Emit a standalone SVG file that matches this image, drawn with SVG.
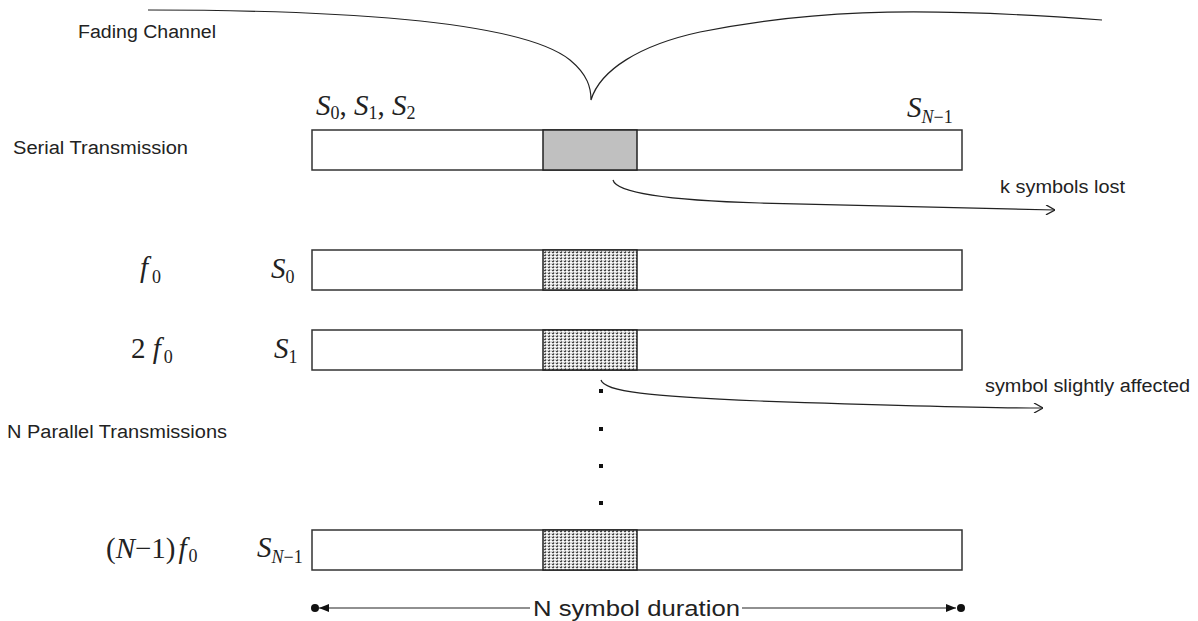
<svg xmlns="http://www.w3.org/2000/svg" width="1198" height="621" viewBox="0 0 1198 621">
<style>
.lbl{font-family:"Liberation Sans",Arial,sans-serif;font-size:18px;fill:#222}
.m{font-family:"Liberation Serif","Times New Roman",serif;font-style:italic;font-size:29px;fill:#222}
.mr{font-family:"Liberation Serif","Times New Roman",serif;font-size:29px;fill:#222}
.sub{font-family:"Liberation Serif","Times New Roman",serif;font-size:18px;fill:#222}
.subi{font-family:"Liberation Serif","Times New Roman",serif;font-style:italic;font-size:18px;fill:#222}
.box{fill:#fff;stroke:#333;stroke-width:1.5}
.hatch{fill:url(#dots);stroke:#222;stroke-width:1.5}
.con{fill:none;stroke:#222;stroke-width:1.2}
</style>
<defs>
<pattern id="dots" width="4" height="3" patternUnits="userSpaceOnUse">
<rect width="4" height="3" fill="#d8d8d8"/>
<rect x="0" y="0" width="2" height="1" fill="#444"/>
<rect x="2" y="1" width="2" height="1" fill="#fff"/>
<rect x="1" y="2" width="1" height="1" fill="#777"/>
</pattern>
<marker id="open" viewBox="0 0 10 10" refX="10" refY="5" markerWidth="10" markerHeight="10" markerUnits="userSpaceOnUse" orient="auto">
<path d="M1,0 L10,5 L1,10" fill="none" stroke="#222" stroke-width="1.3"/>
</marker>
<marker id="tri" viewBox="0 0 10 8" refX="10" refY="4" markerWidth="10" markerHeight="8" markerUnits="userSpaceOnUse" orient="auto-start-reverse">
<path d="M0,0 L10,4 L0,8 Z" fill="#111"/>
</marker>
</defs>

<g id="fading-channel">
<path class="con" d="M148,10 C330,10 520,20 570,60 C588,75 591,88 591,100 C600,70 640,45 700,32 C800,12 900,5 1102,20"/>
<text class="lbl" x="78" y="38" textLength="138" lengthAdjust="spacingAndGlyphs">Fading Channel</text>
</g>

<g id="serial">
<text class="lbl" x="13" y="154" textLength="175" lengthAdjust="spacingAndGlyphs">Serial Transmission</text>
<rect class="box" x="312" y="130" width="650" height="40"/>
<rect x="543" y="130" width="94" height="40" fill="#c0c0c0" stroke="#222" stroke-width="1.5"/>
<text x="316" y="115"><tspan class="m">S</tspan><tspan class="sub" dy="4">0</tspan><tspan class="mr" dy="-4">, </tspan><tspan class="m">S</tspan><tspan class="sub" dy="4">1</tspan><tspan class="mr" dy="-4">, </tspan><tspan class="m">S</tspan><tspan class="sub" dy="4">2</tspan></text>
<text x="907" y="117"><tspan class="m">S</tspan><tspan class="subi" dy="6">N</tspan><tspan class="sub">−1</tspan></text>
</g>

<g id="row-f0">
<text x="140" y="277"><tspan class="m">f</tspan><tspan class="sub" dx="4" dy="6">0</tspan></text>
<text x="271" y="278"><tspan class="m">S</tspan><tspan class="sub" dy="5">0</tspan></text>
<rect class="box" x="312" y="250" width="650" height="40"/>
<rect class="hatch" x="543" y="250" width="94" height="40"/>
</g>

<g id="row-2f0">
<text x="131" y="358"><tspan class="mr">2 </tspan><tspan class="m">f</tspan><tspan class="sub" dx="3" dy="5">0</tspan></text>
<text x="274" y="358"><tspan class="m">S</tspan><tspan class="sub" dy="5">1</tspan></text>
<rect class="box" x="312" y="330" width="650" height="40"/>
<rect class="hatch" x="543" y="330" width="94" height="40"/>
</g>

<g id="row-parallel-label">
<text class="lbl" x="7" y="438" textLength="220" lengthAdjust="spacingAndGlyphs">N Parallel Transmissions</text>
</g>

<g id="ellipsis">
<rect x="599" y="389" width="4" height="4" fill="#111"/>
<rect x="599" y="427" width="4" height="4" fill="#111"/>
<rect x="599" y="464" width="4" height="4" fill="#111"/>
<rect x="599" y="501" width="4" height="4" fill="#111"/>
</g>

<g id="row-nf0">
<text x="106" y="558"><tspan class="mr">(</tspan><tspan class="m">N</tspan><tspan class="mr">−1)</tspan><tspan class="m" dx="3">f</tspan><tspan class="sub" dx="2" dy="4">0</tspan></text>
<text x="257" y="557"><tspan class="m">S</tspan><tspan class="subi" dy="6">N</tspan><tspan class="sub">−1</tspan></text>
<rect class="box" x="312" y="530" width="650" height="40"/>
<rect class="hatch" x="543" y="530" width="94" height="40"/>
</g>

<g id="connectors">
<path class="con" marker-end="url(#open)" d="M613,180 C616,192 660,200 760,203 C880,206 980,209 1055,210"/>
<path class="con" marker-end="url(#open)" d="M601,380 C604,392 650,396 760,401 C880,405 980,408 1043,408"/>
<path class="con" marker-start="url(#tri)" d="M319,608 H530"/>
<path class="con" marker-end="url(#tri)" d="M742,608 H956"/>
<circle cx="315" cy="608" r="4" fill="#111"/>
<circle cx="961" cy="608" r="4" fill="#111"/>
</g>

<g id="labels">
<text class="lbl" x="1000" y="193" textLength="125" lengthAdjust="spacingAndGlyphs">k symbols lost</text>
<text class="lbl" x="985" y="392" textLength="205" lengthAdjust="spacingAndGlyphs">symbol slightly affected</text>
<text class="lbl" x="533" y="616" style="font-size:22px" textLength="207" lengthAdjust="spacingAndGlyphs">N symbol duration</text>
</g>
</svg>
